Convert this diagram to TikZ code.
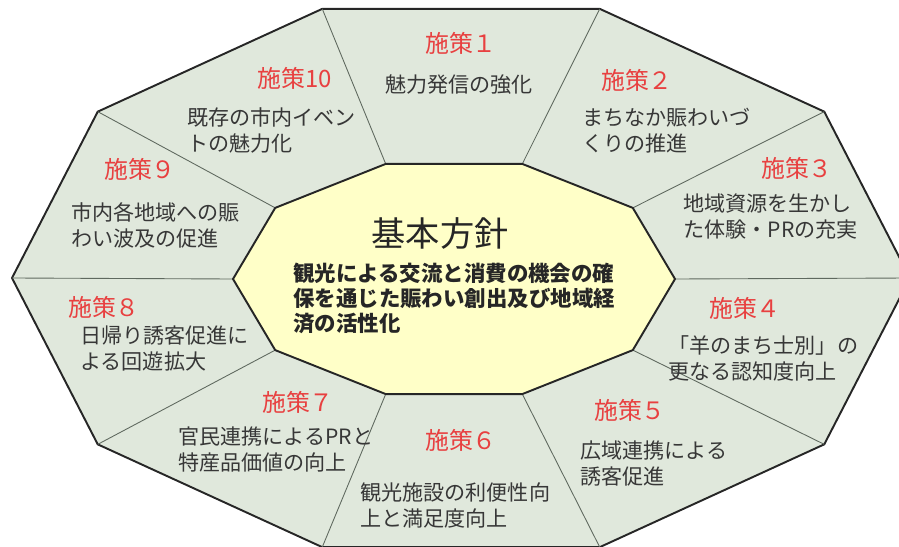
\documentclass[tikz,border=0pt]{standalone}
\usepackage{fontspec}
\setmainfont{Noto Sans CJK JP}
\definecolor{ringfill}{RGB}{224,232,220}
\definecolor{corefill}{RGB}{255,255,200}
\definecolor{labelred}{RGB}{232,64,64}
\definecolor{textgray}{RGB}{55,55,55}
\definecolor{spokegray}{RGB}{95,105,95}
\tikzset{
  ring/.style={fill=ringfill, draw=black!85, line width=1.1pt, line join=round},
  core/.style={fill=corefill, draw=black!85, line width=1.1pt, line join=round},
  spoke/.style={draw=spokegray, line width=0.5pt},
  measure/.style={text=labelred, font=\fontsize{13.6}{16}\selectfont, inner sep=0pt},
  desc/.style={text=textgray, font=\fontsize{12}{14.8}\selectfont, align=left, anchor=west, inner sep=0pt},
}
\begin{document}
\begin{tikzpicture}[x=0.02cm, y=-0.02cm]
      \useasboundingbox (0,0) rectangle (899,547);
      \clip (0,0) rectangle (899,547);
      % corners of the outer ring
      \begin{scope}[shift={(461,278)}]
        \path
          (0:449 and 283) coordinate (o0)
          (36:449 and 283) coordinate (o1)
          (72:449 and 283) coordinate (o2)
          (108:449 and 283) coordinate (o3)
          (144:449 and 283) coordinate (o4)
          (180:449 and 283) coordinate (o5)
          (216:449 and 283) coordinate (o6)
          (252:449 and 283) coordinate (o7)
          (288:449 and 283) coordinate (o8)
          (324:449 and 283) coordinate (o9);
      \end{scope}
      % corners of the core
      \begin{scope}[shift={(454,279)}]
        \path
          (0:221 and 121) coordinate (i0)
          (36:221 and 121) coordinate (i1)
          (72:221 and 121) coordinate (i2)
          (108:221 and 121) coordinate (i3)
          (144:221 and 121) coordinate (i4)
          (180:221 and 121) coordinate (i5)
          (216:221 and 121) coordinate (i6)
          (252:221 and 121) coordinate (i7)
          (288:221 and 121) coordinate (i8)
          (324:221 and 121) coordinate (i9);
      \end{scope}
      \filldraw[ring] (o0) -- (o1) -- (o2) -- (o3) -- (o4) -- (o5) -- (o6) -- (o7) -- (o8) -- (o9) -- cycle;
      \begin{scope}[spoke]
        \draw (i0) to (o0);
        \draw (i1) to (o1);
        \draw (i2) to (o2);
        \draw (i3) to (o3);
        \draw (i4) to (o4);
        \draw (i5) to (o5);
        \draw (i6) to (o6);
        \draw (i7) to (o7);
        \draw (i8) to (o8);
        \draw (i9) to (o9);
      \end{scope}
      \filldraw[core] (i0) -- (i1) -- (i2) -- (i3) -- (i4) -- (i5) -- (i6) -- (i7) -- (i8) -- (i9) -- cycle;
      % centre
      \node[text=black!85, font=\fontsize{19.5}{22}\selectfont, inner sep=0pt] (title) at (440,233) {基本方針};
      \node[text=black!85, font=\fontsize{12.2}{14.2}\selectfont\bfseries, align=left, anchor=west, inner sep=0pt] (aim) at (293,298)
        {観光による交流と消費の機会の確\\保を通じた賑わい創出及び地域経\\済の活性化};
      % measures
      \node[measure] (m1) at (461,43) {施策１};
      \node[desc] (d1) at (385,85) {魅力発信の強化};
      \node[measure] (m2) at (637,80) {施策２};
      \node[desc] (d2) at (582,131) {まちなか賑わいづ\\くりの推進};
      \node[measure] (m3) at (797,168) {施策３};
      \node[desc] (d3) at (683,217) {地域資源を生かし\\た体験・PRの充実};
      \node[measure] (m4) at (745,308) {施策４};
      \node[desc] (d4) at (668,358) {「羊のまち士別」の\\更なる認知度向上};
      \node[measure] (m5) at (630,410) {施策５};
      \node[desc] (d5) at (580,464) {広域連携による\\誘客促進};
      \node[measure] (m6) at (461,440) {施策６};
      \node[desc] (d6) at (360,505) {観光施設の利便性向\\上と満足度向上};
      \node[measure] (m7) at (298,402) {施策７};
      \node[desc] (d7) at (178,449) {官民連携によるPRと\\特産品価値の向上};
      \node[measure] (m8) at (104,307) {施策８};
      \node[desc] (d8) at (80,348) {日帰り誘客促進に\\よる回遊拡大};
      \node[measure] (m9) at (140,169) {施策９};
      \node[desc] (d9) at (71,225) {市内各地域への賑\\わい波及の促進};
      \node[measure] (m10) at (295,78) {施策10};
      \node[desc] (d10) at (187,130) {既存の市内イベン\\トの魅力化};
    \end{tikzpicture}
\end{document}
